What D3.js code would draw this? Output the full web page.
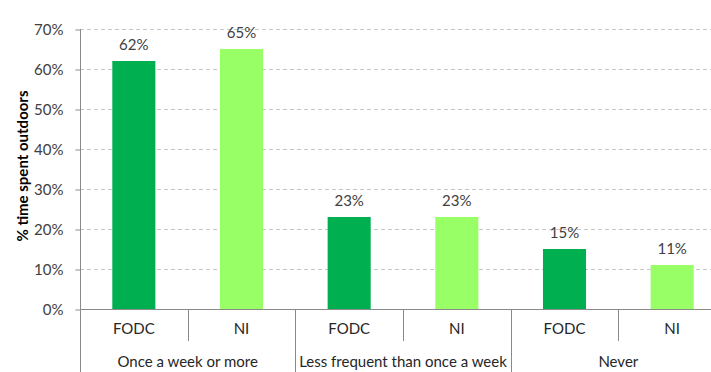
<!DOCTYPE html>
<html><head><meta charset="utf-8">
<script src="https://cdn.jsdelivr.net/npm/d3@7"></script>
<style>body{margin:0;background:#fff}svg{display:block}</style>
</head><body><svg id="c" width="711" height="372"></svg>
<script>
const groups = ["Once a week or more", "Less frequent than once a week", "Never"];
const series = ["FODC", "NI"];
const fodcValues = [0.62, 0.23, 0.15];
const niValues = [0.65, 0.23, 0.11];
const yTicks = [0, 0.1, 0.2, 0.3, 0.4, 0.5, 0.6, 0.7];
const colors = {FODC: "#00B050", NI: "#99FF66"};

const data = [];
groups.forEach((g, i) => {
  data.push({group: g, series: "FODC", value: fodcValues[i], key: g + "|FODC"});
  data.push({group: g, series: "NI", value: niValues[i], key: g + "|NI"});
});

const font = "Lato, 'Open Sans', sans-serif";
const fs = 15;
const svg = d3.select("#c");
const pL = 80, pR = 726, pT = 29, pB = 309;
const x = d3.scaleBand().domain(data.map(d => d.key)).range([pL, pR]).paddingInner(0).paddingOuter(0);
const y = d3.scaleLinear().domain([0, 0.7]).range([pB, pT]);

// gridlines
svg.append("g").selectAll("line").data(yTicks.filter(t => t > 0)).join("line")
  .attr("x1", pL).attr("x2", pR)
  .attr("y1", d => Math.round(y(d)) + 0.5).attr("y2", d => Math.round(y(d)) + 0.5)
  .attr("stroke", "#c6c6c6").attr("stroke-dasharray", "4,3").attr("stroke-width", 1);

// y axis
const yAxis = d3.axisLeft(y).tickValues(yTicks).tickFormat(d3.format(".0%")).tickSize(5).tickPadding(12);
const ya = svg.append("g").attr("transform", `translate(${pL + 0.5},0.5)`).call(yAxis);
ya.select(".domain").remove();
ya.selectAll(".tick line").attr("stroke", "#8a8a8a");
ya.selectAll("text").attr("font-family", font).attr("font-size", fs).attr("fill", "#404040");

// bars
const bw = x.bandwidth() * 0.4;
svg.append("g").selectAll("rect").data(data).join("rect")
  .attr("x", d => x(d.key) + (x.bandwidth() - bw) / 2)
  .attr("y", d => y(d.value))
  .attr("width", bw)
  .attr("height", d => y(0) - y(d.value))
  .attr("fill", d => colors[d.series]);

// value labels
svg.append("g").selectAll("text").data(data).join("text")
  .attr("x", d => x(d.key) + x.bandwidth() / 2)
  .attr("y", d => y(d.value) - 11)
  .attr("text-anchor", "middle")
  .attr("font-family", font).attr("font-size", fs).attr("fill", "#404040")
  .text(d => d3.format(".0%")(d.value));

// axes lines
const ax = svg.append("g").attr("stroke", "#8a8a8a").attr("stroke-width", 1);
ax.append("line").attr("x1", pL + 0.5).attr("x2", pL + 0.5).attr("y1", pT).attr("y2", 372);
ax.append("line").attr("x1", pL).attr("x2", pR).attr("y1", pB + 0.5).attr("y2", pB + 0.5);

// category separators
data.forEach((d, i) => {
  if (i === 0) return;
  const xx = Math.round(x(d.key)) + 0.5;
  const isGroup = d.series === "FODC";
  ax.append("line").attr("x1", xx).attr("x2", xx).attr("y1", pB).attr("y2", isGroup ? 372 : 341);
});

// series labels
svg.append("g").selectAll("text").data(data).join("text")
  .attr("x", d => x(d.key) + x.bandwidth() / 2)
  .attr("y", 334)
  .attr("text-anchor", "middle")
  .attr("font-family", font).attr("font-size", fs).attr("fill", "#262626")
  .text(d => d.series);

// group labels
svg.append("g").selectAll("text").data(groups).join("text")
  .attr("x", g => x(g + "|FODC") + x.bandwidth())
  .attr("y", 367)
  .attr("text-anchor", "middle")
  .attr("font-family", font).attr("font-size", fs).attr("fill", "#262626")
  .text(g => g);

// y title
svg.append("text")
  .attr("transform", `translate(28,${(pT + pB) / 2 - 3}) rotate(-90)`)
  .attr("text-anchor", "middle")
  .attr("font-family", font).attr("font-size", fs).attr("font-weight", "bold").attr("fill", "#000")
  .text("% time spent outdoors");
</script></body></html>
